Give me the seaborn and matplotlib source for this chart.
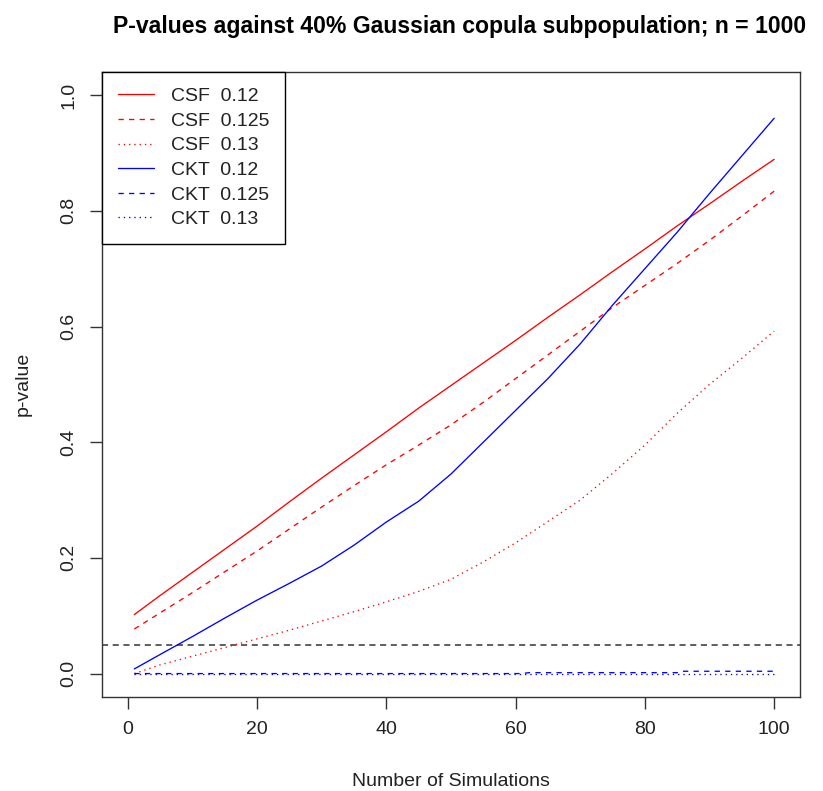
import numpy as np
import pandas as pd
import matplotlib
matplotlib.use("Agg")
import matplotlib.pyplot as plt
import seaborn as sns

# ---- data ----
x_grid = [1, 5, 10, 15, 20, 25, 30, 35, 40, 45, 50, 55, 60, 65, 70, 75, 80, 85, 90, 95, 100]
csf_012 = [0.102, 0.135, 0.175, 0.215, 0.255, 0.297, 0.338, 0.378, 0.418, 0.459, 0.498,
           0.537, 0.576, 0.616, 0.655, 0.695, 0.734, 0.774, 0.812, 0.851, 0.889]
csf_0125 = [0.077, 0.105, 0.140, 0.176, 0.212, 0.250, 0.288, 0.325, 0.361, 0.395, 0.430,
            0.469, 0.510, 0.551, 0.592, 0.633, 0.671, 0.709, 0.749, 0.791, 0.834]
csf_013 = [0.0, 0.015, 0.030, 0.045, 0.060, 0.075, 0.091, 0.107, 0.124, 0.142, 0.163,
           0.193, 0.226, 0.263, 0.300, 0.346, 0.395, 0.450, 0.500, 0.545, 0.592]
ckt_012 = [0.008, 0.033, 0.064, 0.096, 0.127, 0.156, 0.186, 0.222, 0.262, 0.298, 0.345,
           0.400, 0.455, 0.510, 0.570, 0.637, 0.700, 0.763, 0.830, 0.895, 0.960]
ckt_0125_x = [1, 61, 62, 85, 86, 100]
ckt_0125 = [0.0, 0.0, 0.0015, 0.0015, 0.004, 0.004]
ckt_013_x = [1, 100]
ckt_013 = [0.0, 0.0]

labels = ["CSF  0.12", "CSF  0.125", "CSF  0.13", "CKT  0.12", "CKT  0.125", "CKT  0.13"]
colors = ["#FF0000", "#FF0000", "#FF0000", "#0000FF", "#0000FF", "#0000FF"]
threshold = 0.05

title = "P-values against 40% Gaussian copula subpopulation; n = 1000"
xlabel = "Number of Simulations"
ylabel = "p-value"
xticks = [0, 20, 40, 60, 80, 100]
yticks = [0.0, 0.2, 0.4, 0.6, 0.8, 1.0]

series = [(x_grid, csf_012), (x_grid, csf_0125), (x_grid, csf_013),
          (x_grid, ckt_012), (ckt_0125_x, ckt_0125), (ckt_013_x, ckt_013)]
frames = []
for lab, (xs, ys) in zip(labels, series):
    frames.append(pd.DataFrame({"x": xs, "y": ys, "series": lab}))
df = pd.concat(frames, ignore_index=True)

sns.set_theme(style="ticks")
plt.rcParams["font.family"] = ["Liberation Sans", "DejaVu Sans"]

fig = plt.figure(figsize=(8.23, 7.91), dpi=100)
ax = fig.add_axes([102 / 823, (791 - 696.7) / 791, 698 / 823, 624.7 / 791])

dash_styles = ["", (4, 4), (1, 3), "", (4, 4), (1, 3)]
sns.lineplot(data=df, x="x", y="y", hue="series", style="series",
             hue_order=labels, style_order=labels,
             palette=dict(zip(labels, colors)),
             dashes=dict(zip(labels, dash_styles)),
             linewidth=0.95, ax=ax, legend=True, estimator=None, sort=False)

ax.axhline(threshold, color="#333333", lw=1.1, dashes=(4, 3), zorder=1)

ax.set_xlim(-4, 104)
ax.set_ylim(-0.04, 1.04)
ax.set_xticks(xticks)
ax.set_xticklabels([str(t) for t in xticks])
ax.set_yticks(yticks)
ax.set_yticklabels([f"{t:.1f}" for t in yticks], rotation=90, va="center")
ax.tick_params(axis="both", direction="out", length=8.5, width=1, color="#333333",
               labelsize=14, labelcolor="#222222", pad=9)
for s in ax.spines.values():
    s.set_visible(True)
    s.set_color("#333333")
    s.set_linewidth(1.0)

ax.set_xlabel(xlabel, fontsize=14, color="#222222", labelpad=25)
ax.set_ylabel(ylabel, fontsize=14, color="#222222", labelpad=21)
fig.text(460 / 823, 1 - 27 / 791, title, ha="center", va="center",
         fontsize=16.6, fontweight="bold", color="black")

handles, lbls = ax.get_legend_handles_labels()
leg = ax.legend(handles, lbls, loc="upper left", borderaxespad=0, fancybox=False,
                edgecolor="black", framealpha=1, fontsize=14,
                handlelength=1.85, handletextpad=0.88, labelspacing=0.36,
                borderpad=0.8)
leg.get_frame().set_linewidth(1.0)
for t in leg.get_texts():
    t.set_color("#222222")

fig.savefig("out.png", dpi=100, facecolor="white")
